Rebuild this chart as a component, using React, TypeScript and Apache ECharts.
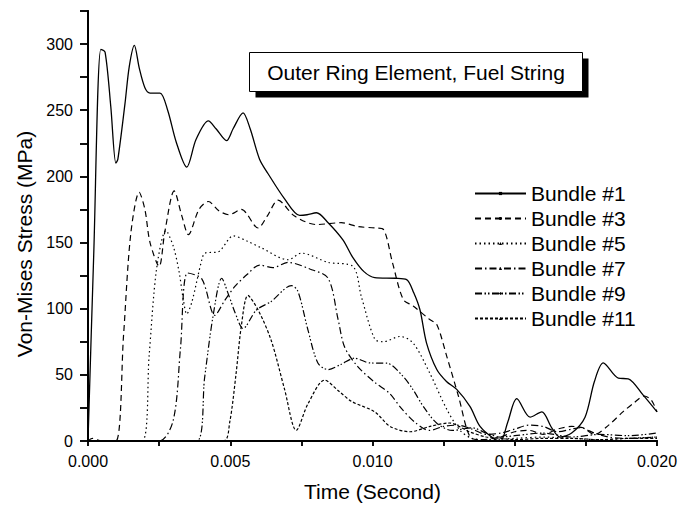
import React, { useEffect, useRef } from "react";
import * as echarts from "echarts";

// time in milliseconds, stress in MPa
const b1T = [0, 0.2, 0.45, 0.6, 0.8, 0.98, 1.05, 1.3, 1.45, 1.63, 1.8, 2.0, 2.18, 2.53, 2.8, 3.1, 3.47, 3.8, 4.23, 4.5, 4.87, 5.1, 5.45, 5.7, 6.03, 6.33, 6.91, 7.44, 7.7, 8.03, 8.44, 8.96, 9.3, 9.7, 10.08, 10.8, 11.2, 11.45, 11.67, 11.9, 12.26, 12.6, 12.96, 13.43, 13.78, 14.25, 14.5, 14.75, 15.07, 15.54, 15.95, 16.3, 16.59, 17.0, 17.47, 17.8, 18.11, 18.64, 18.99, 19.5, 20];
const b1V = [0, 140, 296, 294, 253, 210, 213, 255, 283, 299, 282, 267, 263, 263, 250, 226, 207, 228, 242, 236, 227, 236, 248, 236, 213, 202, 183, 170.5, 171, 172.5, 165, 152, 139, 128, 123.5, 123, 122, 112, 99, 74, 54, 45, 39, 26, 11, 2, 0, 14, 32, 18, 22, 10, 3, 6, 18, 45, 59, 47.5, 47, 35, 22];

const b3T = [0, 0.15, 0.3, 0.5, 0.98, 1.25, 1.5, 1.8, 2.0, 2.18, 2.5, 2.7, 3.03, 3.3, 3.53, 3.9, 4.23, 4.6, 4.95, 5.39, 5.98, 6.3, 6.68, 7.26, 8.03, 8.9, 9.5, 10.1, 10.38, 10.7, 11.08, 11.43, 12.0, 12.26, 12.61, 13.02, 13.43, 13.8, 14.5, 15.0, 15.5, 16.0, 16.5, 17.0, 17.4, 17.8, 18.3, 18.8, 19.2, 19.55, 19.8, 20];
const b3V = [0, 2, 1, 0, 0, 80, 156, 188, 175, 150, 132, 158, 189, 170, 156, 175, 181, 174, 171, 175, 161, 170, 182, 170, 163.6, 165, 162, 161, 160, 135, 107, 102, 92, 88, 64, 34, 3, 1, 3, 7, 8, 5, 9, 11, 10, 5, 12, 22, 29, 34, 31, 22];

const b5T = [0, 1.9, 2.15, 2.41, 2.74, 3.0, 3.2, 3.35, 3.47, 3.65, 4.0, 4.11, 4.58, 5.11, 5.6, 6.09, 7.03, 7.5, 8.44, 9.31, 9.61, 10.08, 10.38, 10.97, 11.43, 12.02, 12.61, 13.08, 13.5, 14, 15, 16, 17, 18, 19, 20];
const b5V = [0, 0, 65, 130, 159, 147, 128, 107, 96, 105, 137, 142, 143, 155, 151, 146, 137, 142, 135, 132, 109, 77, 75, 79, 74, 51, 24, 8, 2, 1, 2, 3, 2, 1, 2, 3];

const b7T = [0, 2.5, 3.0, 3.25, 3.5, 4.0, 4.46, 4.8, 5.17, 5.6, 6.03, 6.5, 7.03, 7.8, 8.44, 8.79, 9.02, 9.49, 10.1, 10.6, 11.0, 11.5, 12.0, 12.5, 13.0, 13.5, 14.0, 14.5, 15.0, 15.5, 16.0, 16.5, 17.0, 17.3, 17.8, 18.3, 19.0, 20];
const b7V = [0, 0, 16, 70, 127, 122.5, 95, 106, 117, 126, 133, 131, 135, 130, 123, 92, 71, 56, 44, 36, 25, 14, 8, 11, 12, 9, 5, 6, 9, 12, 11, 7, 9, 10, 6, 3, 2, 3];

const b9T = [0, 3.82, 4.1, 4.4, 4.7, 4.95, 5.17, 5.45, 5.92, 6.44, 7.15, 7.38, 7.73, 8.08, 8.44, 8.9, 9.37, 9.9, 10.5, 11.08, 11.43, 11.79, 12.26, 12.8, 13.5, 14.0, 14.5, 15, 16, 17, 18, 19, 20];
const b9V = [0, 0, 48, 95, 123, 110, 97, 85, 99, 105.5, 117.5, 113, 84, 59, 54, 58, 62.6, 59, 58.8, 48.7, 38.6, 26, 13.4, 8, 10, 6, 3, 4, 6, 3, 5, 4, 6];

const b11T = [0, 4.76, 4.98, 5.2, 5.39, 5.62, 5.98, 6.44, 6.91, 7.32, 7.73, 8.32, 8.8, 9.26, 10.08, 10.62, 11.32, 12.02, 12.7, 13.4, 14, 14.5, 15, 16, 17, 18, 19, 20];
const b11V = [0, 0, 14, 50, 87, 110, 99, 76, 39, 8, 28, 46, 38, 30, 22, 11, 7, 11, 13.6, 7, 3, 2, 1, 2, 2, 1, 2, 2];

const seriesNames = ["Bundle #1", "Bundle #3", "Bundle #5", "Bundle #7", "Bundle #9", "Bundle #11"];
const xTickLabels = ["0.000", "0.005", "0.010", "0.015", "0.020"];
const yTickLabels = ["0", "50", "100", "150", "200", "250", "300"];

const FONT = '"Liberation Sans", Arial, Helvetica, sans-serif';

const zip = (t: number[], v: number[]) => t.map((x, i) => [x, v[i]]);

export default function App() {
  const ref = useRef<HTMLDivElement>(null);
  useEffect(() => {
    if (!ref.current) return;
    const chart = echarts.init(ref.current, undefined, { renderer: "svg" });
    const dashes: any[] = ["solid", [6, 4], [1.5, 3], [7, 3, 1.5, 3], [7, 2.5, 1.5, 2, 1.5, 2.5], [3, 2]];
    const symbols = ["rect", "circle", "triangle", "triangle", "diamond", "triangle"];
    const data = [zip(b1T, b1V), zip(b3T, b3V), zip(b5T, b5V), zip(b7T, b7V), zip(b9T, b9V), zip(b11T, b11V)];
    const series = seriesNames.map((name, i) => ({
      name,
      type: "line",
      data: data[i],
      smooth: 0.3,
      showSymbol: false,
      symbol: symbols[i],
      symbolSize: 3,
      color: "#000",
      lineStyle: { color: "#000", width: i === 0 ? 1.3 : 1.2, type: dashes[i] },
      itemStyle: { color: "#000" },
      xAxisIndex: 0,
      yAxisIndex: 0,
      z: 3,
    }));
    const axisLine = { show: true, lineStyle: { color: "#000", width: 2 } };
    chart.setOption({
      animation: false,
      backgroundColor: "#fff",
      grid: { left: 88, right: 24, top: 11, bottom: 67, containLabel: false, outerBoundsMode: "none" },
      legend: {
        data: seriesNames,
        orient: "vertical",
        left: 469,
        top: 178,
        itemWidth: 51,
        itemHeight: 4,
        itemGap: 4,
        textStyle: { fontSize: 21, lineHeight: 21, color: "#000", fontFamily: FONT },
        selectedMode: false,
      },
      xAxis: [
        {
          type: "value",
          min: 0,
          max: 20,
          interval: 2.5,
          position: "bottom",
          name: "Time (Second)",
          nameLocation: "middle",
          nameGap: 40,
          nameTextStyle: { fontSize: 21, color: "#000", fontFamily: FONT },
          axisLine,
          axisTick: { show: true, inside: false, length: 5, lineStyle: { color: "#000", width: 1.5 } },
          axisLabel: {
            margin: 12,
            fontSize: 16,
            color: "#000",
            fontFamily: FONT,
            formatter: (v: number) => {
              const k = Math.round(v / 5);
              return Math.abs(v - k * 5) < 1e-6 ? xTickLabels[k] ?? "" : "";
            },
          },
          splitLine: { show: false },
        },
        {
          type: "value",
          min: 0,
          max: 20,
          interval: 2.5,
          position: "top",
          axisLine,
          axisTick: { show: true, inside: true, length: 5, lineStyle: { color: "#000", width: 1.5 } },
          axisLabel: { show: false },
          splitLine: { show: false },
        },
      ],
      yAxis: [
        {
          type: "value",
          min: 0,
          max: 325,
          interval: 25,
          position: "left",
          name: "Von-Mises Stress (MPa)",
          nameLocation: "middle",
          nameGap: 52,
          nameTextStyle: { fontSize: 21, color: "#000", fontFamily: FONT, padding: [0, 36, 0, 0] },
          axisLine,
          axisTick: { show: true, inside: false, length: 8, lineStyle: { color: "#000", width: 1.5 } },
          axisLabel: {
            margin: 15,
            fontSize: 16,
            color: "#000",
            fontFamily: FONT,
            formatter: (v: number) => {
              const k = Math.round(v / 50);
              return Math.abs(v - k * 50) < 1e-6 ? yTickLabels[k] ?? "" : "";
            },
          },
          splitLine: { show: false },
        },
        {
          type: "value",
          min: 0,
          max: 325,
          interval: 25,
          position: "right",
          axisLine,
          axisTick: { show: true, inside: true, length: 8, lineStyle: { color: "#000", width: 1.5 } },
          axisLabel: { show: false },
          splitLine: { show: false },
        },
      ],
      graphic: [
        {
          type: "group",
          left: 249,
          top: 52,
          children: [
            { type: "rect", shape: { x: 6, y: 6, width: 333, height: 39 }, style: { fill: "#000" } },
            { type: "rect", shape: { x: 0, y: 0, width: 333, height: 39 }, style: { fill: "#fff", stroke: "#000", lineWidth: 1 } },
            {
              type: "text",
              x: 166.5,
              y: 20,
              style: { text: "Outer Ring Element, Fuel String", fontSize: 21, fontFamily: FONT, fill: "#000", align: "center", verticalAlign: "middle" },
            },
          ],
        },
      ],
      series,
    });
    return () => chart.dispose();
  }, []);
  return <div ref={ref} style={{ position: "fixed", left: 0, top: 0, width: 681, height: 508 }} />;
}
